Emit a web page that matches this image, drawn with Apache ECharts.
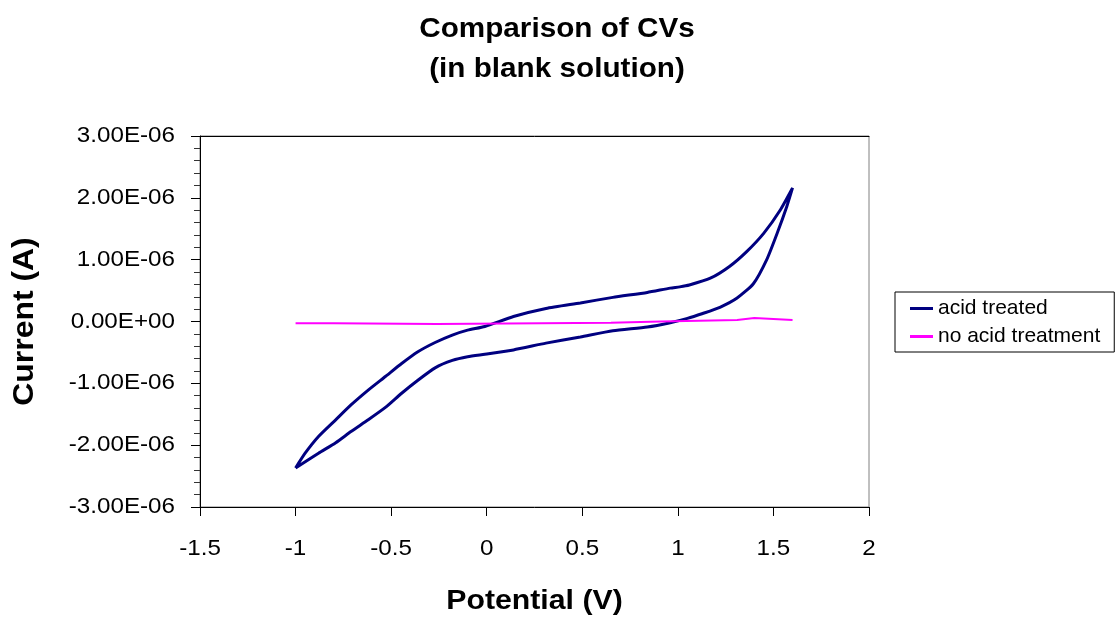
<!DOCTYPE html>
<html>
<head>
<meta charset="utf-8">
<script src="https://cdn.jsdelivr.net/npm/echarts@6/dist/echarts.min.js"></script>
<style>
  html, body { margin: 0; padding: 0; background: #ffffff; }
  #chart { width: 1117px; height: 617px; }
</style>
</head>
<body>
<div id="chart"></div>
<script>
// Text
const titleLines = ['Comparison of CVs', '(in blank solution)'];
const xAxisTitle = 'Potential (V)';
const yAxisTitle = 'Current (A)';
const seriesNames = ['acid treated', 'no acid treatment'];

// Tick values
const xTicks = [-1.5, -1, -0.5, 0, 0.5, 1, 1.5, 2];
const yTicks = [-3e-6, -2e-6, -1e-6, 0, 1e-6, 2e-6, 3e-6];

// Acid treated electrode: one full cycle, -1 V -> 1.6 V -> -1 V
const acidPotential = [
  -1.00, -0.95, -0.88, -0.79, -0.71, -0.62, -0.53, -0.445, -0.36, -0.27, -0.18, -0.10, -0.01,
  0.14, 0.31, 0.49, 0.66, 0.84, 0.96, 1.01, 1.06, 1.17, 1.27, 1.36, 1.45, 1.535, 1.60,
  1.57, 1.52, 1.465, 1.395, 1.31, 1.22, 1.13, 1.05, 0.96, 0.84, 0.66, 0.49, 0.31, 0.14,
  -0.01, -0.10, -0.18, -0.27, -0.36, -0.445, -0.53, -0.62, -0.71, -0.79, -0.88, -1.00
];
const acidCurrent = [
  -2.37e-6, -2.13e-6, -1.86e-6, -1.59e-6, -1.35e-6, -1.11e-6, -0.89e-6, -0.68e-6, -0.49e-6, -0.34e-6, -0.22e-6, -0.14e-6, -0.08e-6,
  0.08e-6, 0.21e-6, 0.30e-6, 0.39e-6, 0.47e-6, 0.54e-6, 0.56e-6, 0.59e-6, 0.70e-6, 0.89e-6, 1.13e-6, 1.43e-6, 1.80e-6, 2.16e-6,
  1.86e-6, 1.43e-6, 1.00e-6, 0.61e-6, 0.38e-6, 0.23e-6, 0.13e-6, 0.05e-6, -0.02e-6, -0.09e-6, -0.15e-6, -0.25e-6, -0.35e-6, -0.46e-6,
  -0.53e-6, -0.57e-6, -0.63e-6, -0.75e-6, -0.95e-6, -1.16e-6, -1.39e-6, -1.59e-6, -1.78e-6, -1.96e-6, -2.13e-6, -2.37e-6
];

// Untreated electrode: nearly flat trace
const blankPotential = [-1.00, -0.80, -0.79, -0.26, -0.25, 0.65, 0.66, 0.91, 0.92, 1.31, 1.32, 1.40, 1.41, 1.60];
const blankCurrent = [
  -0.03e-6, -0.03e-6, -0.04e-6, -0.04e-6, -0.02e-6, -0.02e-6, 0.00e-6,
  0.00e-6, 0.024e-6, 0.024e-6, 0.055e-6, 0.055e-6, 0.024e-6, 0.024e-6
];

const FONT = '"Liberation Sans", Arial, Helvetica, sans-serif';
const STRETCH = 1.1; // slightly wide lettering

function zip(xs, ys) { return xs.map((x, i) => [x, ys[i]]); }
function sciLabel(v) {
  const parts = v.toExponential(2).split('e');
  const n = parseInt(parts[1], 10);
  return parts[0] + 'E' + (n < 0 ? '-' : '+') + String(Math.abs(n)).padStart(2, '0');
}

const chart = echarts.init(document.getElementById('chart'), null, { renderer: 'canvas' });

const option = {
  animation: false,
  backgroundColor: '#ffffff',
  grid: {
    left: 200, top: 136, width: 669, height: 371,
    show: true, borderColor: '#808080', borderWidth: 1, backgroundColor: 'transparent'
  },
  xAxis: [{
    type: 'value', min: -1.5, max: 2, interval: 0.5,
    axisLine: { show: true, onZero: false, lineStyle: { color: '#000', width: 1 } },
    axisTick: { show: true, length: 9, lineStyle: { color: '#000' } },
    axisLabel: { show: false },
    splitLine: { show: false }
  }, {
    type: 'value', position: 'top', min: -1.5, max: 2, interval: 0.5,
    axisLine: { show: true, onZero: false, lineStyle: { color: '#000', width: 1 } },
    axisTick: { show: false }, axisLabel: { show: false }, splitLine: { show: false }
  }],
  yAxis: {
    type: 'value', min: -3e-6, max: 3e-6, interval: 1e-6,
    axisLine: { show: true, onZero: false, lineStyle: { color: '#000', width: 1 } },
    axisTick: { show: true, length: 9, lineStyle: { color: '#000' } },
    minorTick: { show: true, splitNumber: 5, length: 6, lineStyle: { color: '#333' } },
    axisLabel: { show: false },
    splitLine: { show: false }
  },
  legend: {
    data: seriesNames,
    orient: 'vertical',
    left: 895, top: 292,
    icon: 'rect',
    itemWidth: 23, itemHeight: 3, itemGap: 7,
    padding: [6, 14, 5, 15],
    borderColor: '#000', borderWidth: 1, borderRadius: 0,
    backgroundColor: '#fff',
    textStyle: { fontFamily: FONT, fontSize: 21, color: '#000' }
  },
  series: [{
    name: seriesNames[0], type: 'line',
    data: zip(acidPotential, acidCurrent),
    symbol: 'none', smooth: 0.2,
    lineStyle: { color: '#000080', width: 3 },
    itemStyle: { color: '#000080' }
  }, {
    name: seriesNames[1], type: 'line',
    data: zip(blankPotential, blankCurrent),
    symbol: 'none',
    lineStyle: { color: '#ff00ff', width: 2 },
    itemStyle: { color: '#ff00ff' }
  }]
};
chart.setOption(option);

// Text elements, placed through the axes' own scales
function wideText(text, x, y, size, weight, align, rotation) {
  return {
    type: 'text', x: x, y: y, scaleX: STRETCH, rotation: rotation || 0, z: 10,
    style: {
      text: text, fill: '#000',
      font: weight + ' ' + size + 'px ' + FONT,
      textAlign: align, align: align,
      textVerticalAlign: 'middle', verticalAlign: 'middle'
    }
  };
}

const graphics = [];
graphics.push(wideText(titleLines[0], 557, 30, 27, 'bold', 'center'));
graphics.push(wideText(titleLines[1], 557, 70, 27, 'bold', 'center'));

const gridRect = { left: 200, top: 136, right: 869, bottom: 507 };
xTicks.forEach(v => {
  const px = chart.convertToPixel({ xAxisIndex: 0 }, v);
  graphics.push(wideText(String(v), px, 549, 22, 'normal', 'center'));
});
yTicks.forEach(v => {
  const py = chart.convertToPixel({ yAxisIndex: 0 }, v);
  graphics.push(wideText(sciLabel(v), 175, py, 22, 'normal', 'right'));
});
graphics.push(wideText(xAxisTitle, (gridRect.left + gridRect.right) / 2, 601, 27.5, 'bold', 'center'));
graphics.push(wideText(yAxisTitle, 25, (gridRect.top + gridRect.bottom) / 2, 29, 'bold', 'center', Math.PI / 2));

chart.setOption({ graphic: graphics });
</script>
</body>
</html>
